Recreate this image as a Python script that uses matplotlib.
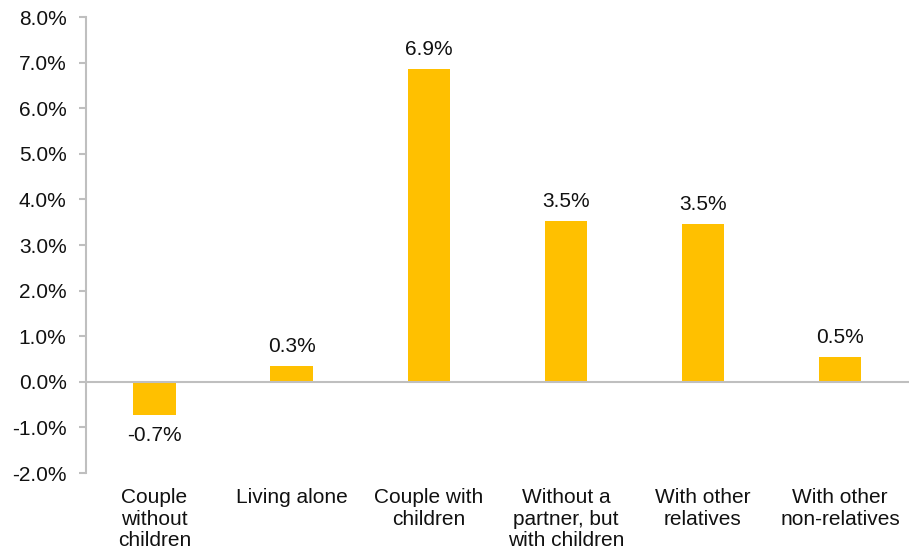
import matplotlib
matplotlib.use("Agg")
import matplotlib.pyplot as plt
from matplotlib.ticker import FuncFormatter

categories = [
    "Couple\nwithout\nchildren",
    "Living alone",
    "Couple with\nchildren",
    "Without a\npartner, but\nwith children",
    "With other\nrelatives",
    "With other\nnon-relatives",
]
values = [-0.72, 0.35, 6.87, 3.53, 3.47, 0.55]
labels = ["-0.7%", "0.3%", "6.9%", "3.5%", "3.5%", "0.5%"]
y_ticks = [-2, -1, 0, 1, 2, 3, 4, 5, 6, 7, 8]

plt.rcParams["font.family"] = ["Liberation Sans", "DejaVu Sans"]
plt.rcParams["font.size"] = 15

grey = "#BFBFBF"
txt = "#111111"

fig = plt.figure(figsize=(9.09, 5.58), dpi=100)
ax = fig.add_axes([0.0946, 0.1523, 0.905, 0.8172])

x = list(range(len(categories)))
ax.bar(x, values, width=0.31, color="#FFC000", zorder=2)

# zero line
ax.axhline(0, color=grey, linewidth=1.5, zorder=3)

for xi, v, lab in zip(x, values, labels):
    if v >= 0:
        ax.annotate(lab, (xi, v), xytext=(0, 7), textcoords="offset points",
                    ha="center", va="bottom", color=txt)
    else:
        ax.annotate(lab, (xi, v), xytext=(0, -8), textcoords="offset points",
                    ha="center", va="top", color=txt)

ax.set_xlim(-0.5, len(categories) - 0.5)
ax.set_ylim(-2, 8)
ax.set_yticks(y_ticks)
ax.yaxis.set_major_formatter(FuncFormatter(lambda v, p: f"{v:.1f}%"))
ax.set_xticks(x)
ax.set_xticklabels(categories, color=txt, linespacing=1.17)

for s in ["top", "right", "bottom"]:
    ax.spines[s].set_visible(False)
ax.spines["left"].set_color(grey)
ax.spines["left"].set_linewidth(1.5)
ax.tick_params(axis="y", direction="out", length=5, width=1.5, color=grey,
               pad=9, labelcolor=txt)
ax.tick_params(axis="x", length=0, pad=11)

fig.savefig("out.png", dpi=100)
